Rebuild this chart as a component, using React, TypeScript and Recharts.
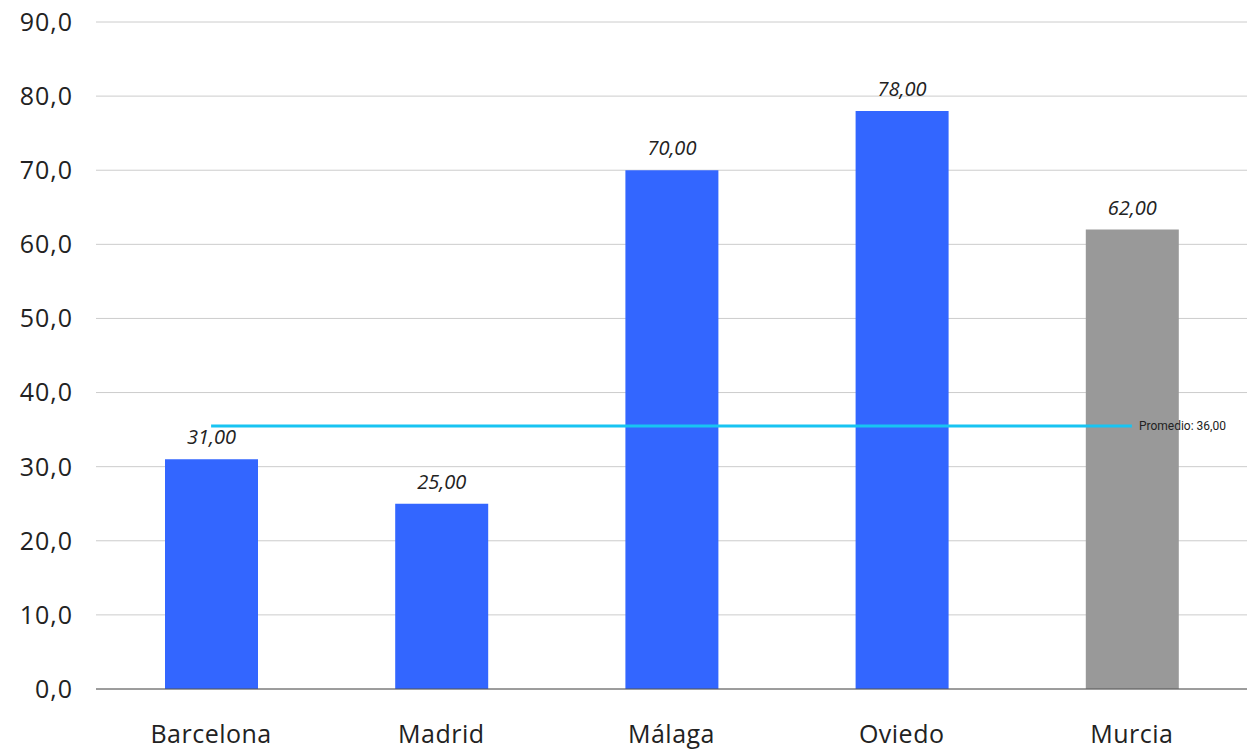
import { ComposedChart, Bar, Line, XAxis, YAxis, CartesianGrid, Cell, LabelList } from "recharts";

const cities = ["Barcelona", "Madrid", "Málaga", "Oviedo", "Murcia"];
const values = [31, 25, 70, 78, 62];
const promedio = [35.5, 35.5, 35.5, 35.5, 35.5];
const barColors = ["#3366ff", "#3366ff", "#3366ff", "#3366ff", "#999999"];
const yTicks = [0, 10, 20, 30, 40, 50, 60, 70, 80, 90];
const promedioLabel = "Promedio: 36,00";

const data = cities.map((city, i) => ({ city, value: values[i], promedio: promedio[i] }));

const fmt1 = (v: number) => v.toFixed(1).replace(".", ",");
const fmt2 = (v: number) => v.toFixed(2).replace(".", ",");

// only the last point of the average line gets its label
const PromedioLabel = (props: any) => {
  const { x, y, index } = props;
  if (index !== cities.length - 1) return null;
  return (
    <text x={x + 7} y={y} dy={4} fontSize={12} fontFamily="Roboto" fill="#222">
      {promedioLabel}
    </text>
  );
};

export default function App() {
  return (
    <div style={{ position: "absolute", left: 0, top: 0, width: 1247, height: 751, background: "#fff" }}>
      <ComposedChart width={1247} height={751} data={data} margin={{ top: 22, right: 0, left: 0, bottom: 0 }}>
        <CartesianGrid vertical={false} stroke="#cccccc" />
        <XAxis
          dataKey="city"
          axisLine={{ stroke: "#555555" }}
          tickLine={false}
          tickMargin={30}
          height={62}
          tick={{ fontSize: 25, fill: "#222", fontFamily: "Open Sans", letterSpacing: 0.5 }}
        />
        <YAxis
          width={96}
          domain={[0, 90]}
          ticks={yTicks}
          tickFormatter={fmt1}
          axisLine={false}
          tickLine={false}
          tickMargin={17}
          tick={{ fontSize: 25, fill: "#222", fontFamily: "Open Sans", letterSpacing: 1 }}
        />
        <Bar dataKey="value" barSize={93} isAnimationActive={false}>
          {data.map((d, i) => (
            <Cell key={d.city} fill={barColors[i]} />
          ))}
          <LabelList
            dataKey="value"
            position="top"
            offset={15}
            formatter={(v: any) => fmt2(Number(v))}
            style={{ fontSize: 20, fontStyle: "italic", fill: "#222", fontFamily: "Open Sans" }}
          />
        </Bar>
        <Line
          dataKey="promedio"
          stroke="#18c4f2"
          strokeWidth={3}
          dot={false}
          activeDot={false}
          isAnimationActive={false}
        >
          <LabelList dataKey="promedio" content={PromedioLabel} />
        </Line>
      </ComposedChart>
    </div>
  );
}
